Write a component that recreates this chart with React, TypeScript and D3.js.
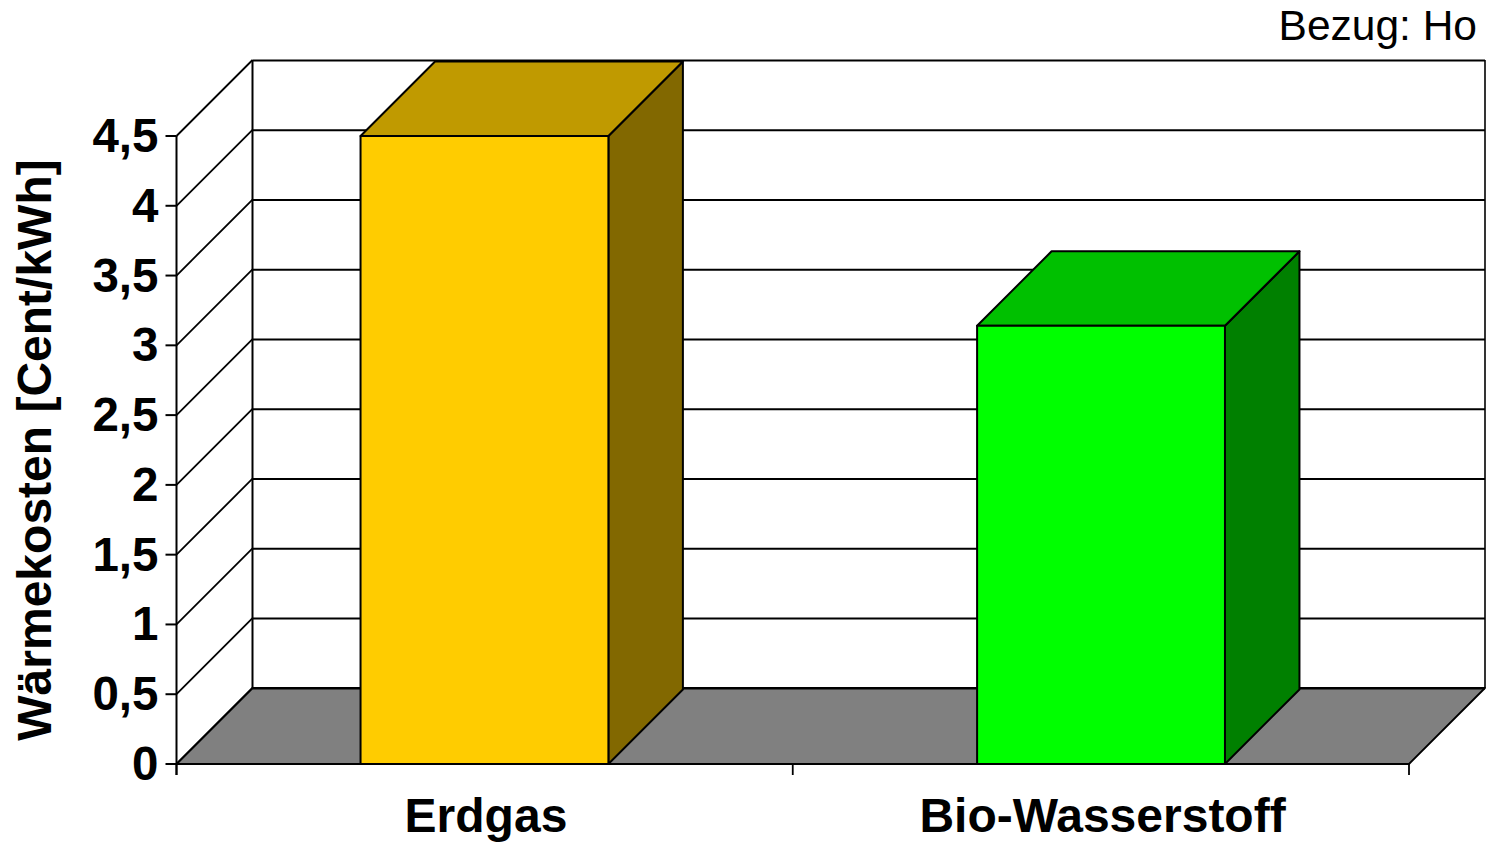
import React from "react";
import * as d3 from "d3";

const categories = ["Erdgas", "Bio-Wasserstoff"];
const values = [4.5, 3.14];
const topColors = ["#c09a00", "#00c000"];
const frontColors = ["#ffcc00", "#00ff00"];
const sideColors = ["#826800", "#008000"];
const yTicks = [0, 0.5, 1, 1.5, 2, 2.5, 3, 3.5, 4, 4.5];
const yTickLabels = ["0", "0,5", "1", "1,5", "2", "2,5", "3", "3,5", "4", "4,5"];

const FONT = "'Liberation Sans', Arial, sans-serif";
const W = 1496, H = 843;
const x0 = 176.5, x1 = 1409, yBottom = 764, yTop = 136;
const wallD = 76;
const barDx = 74.5, barDy = 74.5;

const y = d3.scaleLinear().domain([0, 4.5]).range([yBottom, yTop]);
const x = d3.scaleBand<string>().domain(categories).range([x0, x1]).paddingInner(0.598).paddingOuter(0.2985);
const poly = (pts: [number, number][]) => d3.line()(pts) + "Z";

export default function App() {
  const floor = poly([[x0, yBottom], [x0 + wallD, yBottom - wallD], [x1 + wallD, yBottom - wallD], [x1, yBottom]]);
  return (
    <svg width={W} height={H} viewBox={`0 0 ${W} ${H}`} style={{ position: "absolute", left: 0, top: 0, display: "block", background: "#fff" }}>
      <path d={floor} fill="#808080" stroke="#000" strokeWidth={1.8} strokeLinejoin="round" />
      {yTicks.map((t) => (
        <g key={t} stroke="#000" fill="none">
          <line x1={x0 + wallD} x2={x1 + wallD} y1={y(t) - wallD + 0.4} y2={y(t) - wallD + 0.4} strokeWidth={2} />
          <line x1={x0} y1={y(t)} x2={x0 + wallD} y2={y(t) - wallD} strokeWidth={1.8} />
          <line x1={x0 - 11} x2={x0} y1={y(t)} y2={y(t)} strokeWidth={2} />
        </g>
      ))}
      <line x1={x0} x2={x0} y1={yTop} y2={yBottom + 11} stroke="#000" strokeWidth={2} />
      <line x1={x0 + wallD} x2={x0 + wallD} y1={yTop - wallD} y2={yBottom - wallD} stroke="#000" strokeWidth={2} />
      <line x1={x1 + wallD} x2={x1 + wallD} y1={yTop - wallD} y2={yBottom - wallD} stroke="#000" strokeWidth={1.6} />
      <line x1={x0} x2={x1} y1={yBottom} y2={yBottom} stroke="#000" strokeWidth={2.2} />
      {[x0, (x0 + x1) / 2, x1].map((v) => (
        <line key={v} x1={v} x2={v} y1={yBottom} y2={yBottom + 11} stroke="#000" strokeWidth={1.8} />
      ))}
      {categories.map((c, i) => {
        const l = x(c)!, r = l + x.bandwidth(), t = y(values[i]);
        return (
          <g key={c} stroke="#000" strokeWidth={2} strokeLinejoin="round">
            <path d={poly([[r, yBottom], [r + barDx, yBottom - barDy], [r + barDx, t - barDy], [r, t]])} fill={sideColors[i]} />
            <path d={poly([[l, t], [l + barDx, t - barDy], [r + barDx, t - barDy], [r, t]])} fill={topColors[i]} />
            <rect x={l} y={t} width={r - l} height={yBottom - t} fill={frontColors[i]} />
          </g>
        );
      })}
      {yTicks.map((t, i) => (
        <text key={t} x={158.5} y={y(t) + 16} textAnchor="end" fontFamily={FONT} fontWeight="bold" fontSize={47.5} fill="#000">{yTickLabels[i]}</text>
      ))}
      {categories.map((c) => (
        <text key={c} x={x(c)! + x.bandwidth() / 2 + 1.5} y={832} textAnchor="middle" fontFamily={FONT} fontWeight="bold" fontSize={48} fill="#000">{c}</text>
      ))}
      <text transform="translate(51,450) rotate(-90)" textAnchor="middle" fontFamily={FONT} fontWeight="bold" fontSize={48} fill="#000">Wärmekosten [Cent/kWh]</text>
      <text x={1477} y={40} textAnchor="end" fontFamily={FONT} fontSize={42.5} fill="#000">Bezug: Ho</text>
    </svg>
  );
}
